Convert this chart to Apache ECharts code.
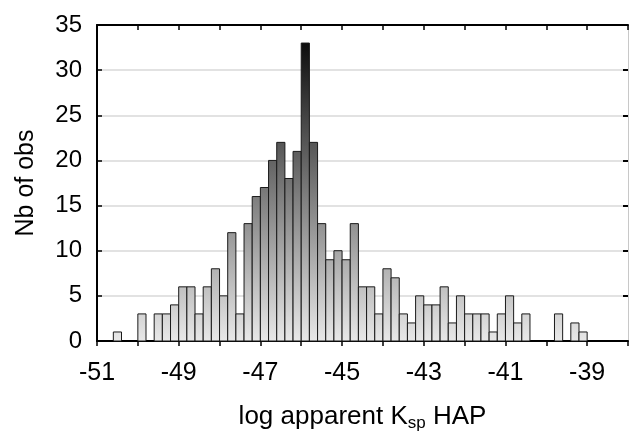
<!DOCTYPE html>
<html>
<head>
<meta charset="utf-8">
<script src="https://cdn.jsdelivr.net/npm/echarts@6/dist/echarts.min.js"></script>
<style>html,body{margin:0;padding:0;background:#fff}#c{width:629px;height:432px}</style>
</head>
<body>
<div id="c"></div>
<script>
// Histogram bins (left edge of each bin) and counts
const binStart = [-50.6,-50.4,-50.2,-50.0,-49.8,-49.6,-49.4,-49.2,-49.0,-48.8,-48.6,-48.4,-48.2,-48.0,-47.8,-47.6,-47.4,-47.2,-47.0,-46.8,-46.6,-46.4,-46.2,-46.0,-45.8,-45.6,-45.4,-45.2,-45.0,-44.8,-44.6,-44.4,-44.2,-44.0,-43.8,-43.6,-43.4,-43.2,-43.0,-42.8,-42.6,-42.4,-42.2,-42.0,-41.8,-41.6,-41.4,-41.2,-41.0,-40.8,-40.6,-40.4,-40.2,-40.0,-39.8,-39.6,-39.4,-39.2];
const counts   = [1,0,0,3,0,3,3,4,6,6,3,6,8,5,12,3,13,16,17,20,22,18,21,33,22,13,9,10,9,13,6,6,3,8,7,3,2,5,4,4,6,2,5,3,3,3,1,3,5,2,3,0,0,0,3,0,2,1];
const binWidth = 0.2;
const xTicks = [-51,-49,-47,-45,-43,-41,-39];
const xTitle = 'log apparent K{sub|sp} HAP';
const yTitle = 'Nb of obs';

const FONT = '"Liberation Sans", Arial, sans-serif';
const chart = echarts.init(document.getElementById('c'), null, {renderer:'canvas'});
const data = binStart.map((b,i)=>[b, counts[i]]);

const option = {
  animation:false,
  grid:{left:97, right:1, top:25, bottom:91, containLabel:false, outerBoundsMode:'none'},
  xAxis:[{
    type:'value', min:-51, max:-38, interval:1, position:'bottom',
    axisLine:{show:true, onZero:false, lineStyle:{color:'#000', width:2}},
    axisTick:{show:true, inside:false, length:5, lineStyle:{color:'#000', width:1.5}},
    axisLabel:{fontSize:25, color:'#000', fontFamily:FONT, margin:20,
      formatter:v=> xTicks.indexOf(v)>=0 ? String(v) : ''},
    splitLine:{show:false},
    name:xTitle, nameLocation:'middle', nameGap:61,
    nameTextStyle:{fontSize:26, color:'#000', fontFamily:FONT,
      rich:{sub:{fontSize:17, fontFamily:FONT, color:'#000', verticalAlign:'bottom', padding:[13,0,0,0]}}}
  },{
    type:'value', min:-51, max:-38, interval:1, position:'top',
    axisLine:{show:true, onZero:false, lineStyle:{color:'#000', width:2}},
    axisTick:{show:true, inside:true, length:5, lineStyle:{color:'#000', width:1.5}},
    axisLabel:{show:false}, splitLine:{show:false}
  }],
  yAxis:[{
    type:'value', min:0, max:35, interval:5, position:'left',
    axisLine:{show:true, onZero:false, lineStyle:{color:'#000', width:2}},
    axisTick:{show:true, inside:true, length:5, lineStyle:{color:'#000', width:1.5}},
    axisLabel:{fontSize:24, color:'#000', fontFamily:FONT, margin:15},
    splitLine:{show:true, lineStyle:{color:'#d9d9d9', width:1.5}},
    name:yTitle, nameLocation:'middle', nameGap:58,
    nameTextStyle:{fontSize:25, color:'#000', fontFamily:FONT}
  },{
    type:'value', min:0, max:35, interval:5, position:'right',
    axisLine:{show:true, onZero:false, lineStyle:{color:'#c8c8c8', width:1}},
    axisTick:{show:true, inside:true, length:5, lineStyle:{color:'#000', width:2}},
    axisLabel:{show:false}, splitLine:{show:false}
  }],
  series:[{
    type:'custom', xAxisIndex:0, yAxisIndex:0, data:data, clip:false,
    renderItem:function(params, api){
      const x0 = api.value(0), v = api.value(1);
      if (!v) return null;
      const p0 = api.coord([x0, 0]);
      const p1 = api.coord([x0 + binWidth, v]);
      const yb = api.coord([x0, 0])[1];
      const yt = api.coord([x0, 35])[1];
      const grad = new echarts.graphic.LinearGradient(0, yt, 0, yb, [
        {offset:0, color:'#000000'},
        {offset:1, color:'#e8e8e8'}
      ], true);
      return {type:'rect',
        shape:{x:p0[0], y:p1[1], width:p1[0]-p0[0], height:p0[1]-p1[1]},
        style:{fill:grad, stroke:'#1a1a1a', lineWidth:1}};
    }
  }]
};
chart.setOption(option);
</script>
</body>
</html>
